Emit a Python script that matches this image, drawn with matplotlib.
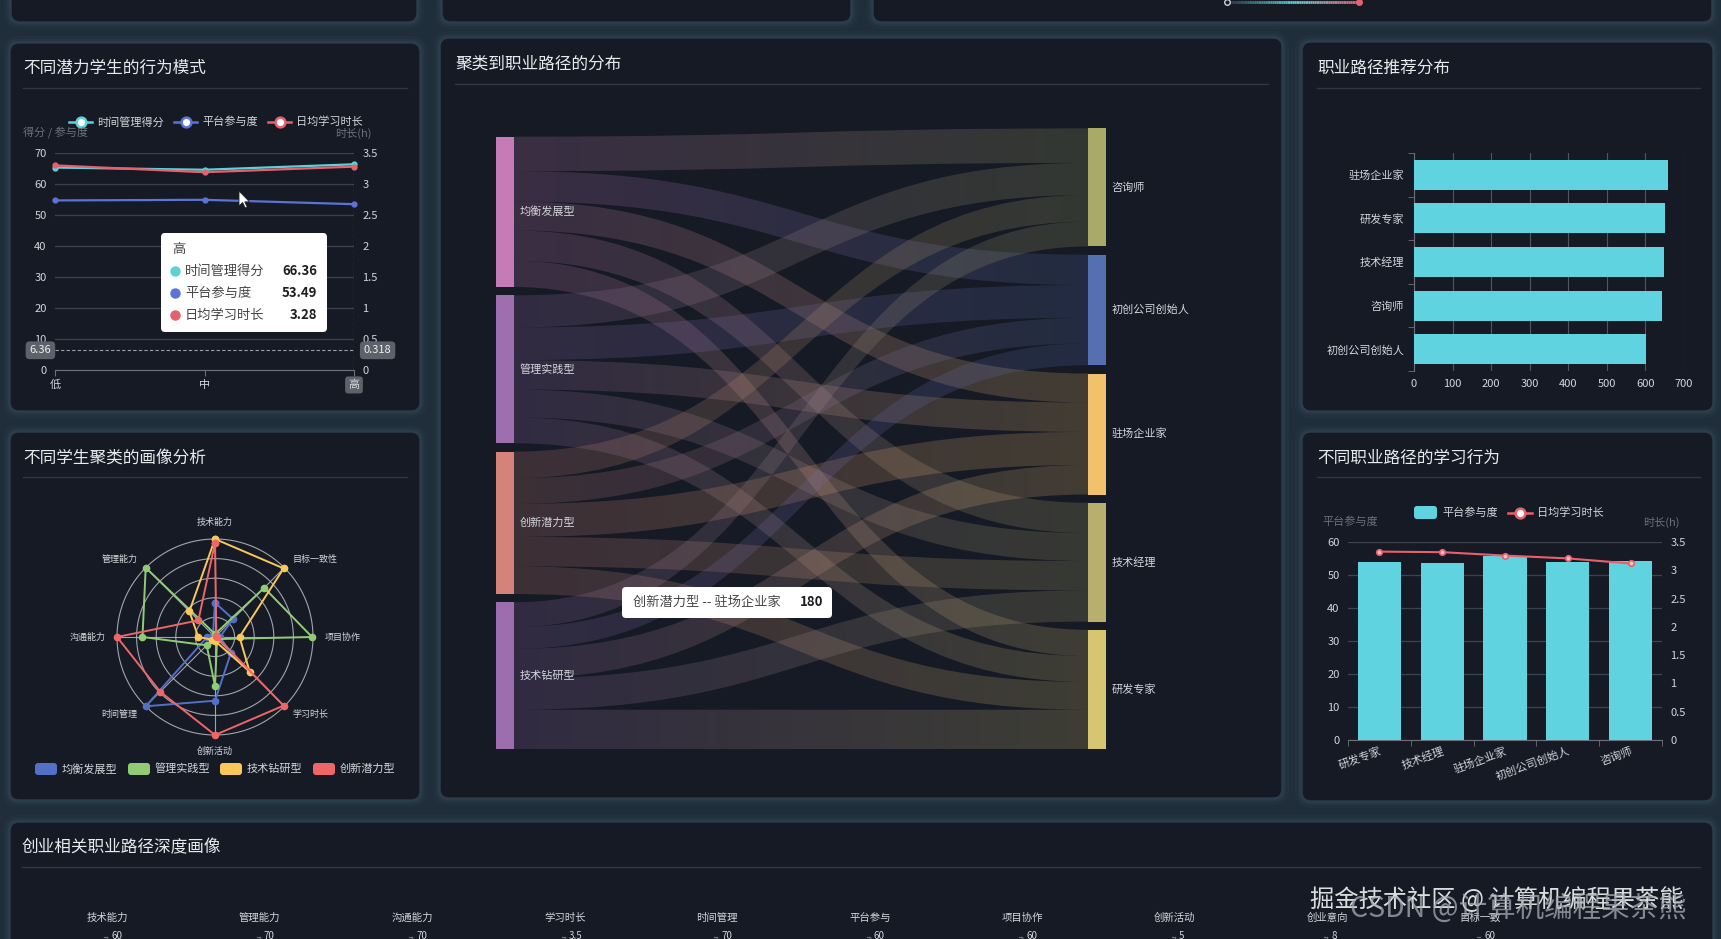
import numpy as np
import matplotlib
matplotlib.use("Agg")
from matplotlib import pyplot as plt
from matplotlib.patches import FancyBboxPatch, PathPatch, Rectangle, Polygon
from matplotlib.path import Path
from matplotlib.colors import to_rgb
from matplotlib.collections import LineCollection

plt.rcParams['font.family'] = ['Noto Sans CJK SC', 'DejaVu Sans']

W, H = 1721, 939

# ---- data ----
levels = ['低', '中', '高']
time_mgmt = [65.3, 64.6, 66.36]
platform = [54.7, 54.9, 53.49]
study_hours = [3.30, 3.19, 3.28]
pointer_val = 6.36

radar_axes = ['技术能力', '目标一致性', '项目协作', '学习时长', '创新活动', '时间管理', '沟通能力', '管理能力']
clusters = ['均衡发展型', '管理实践型', '技术钻研型', '创新潜力型']
radar_balanced = [0.35, 0.26, 0.05, 0.23, 0.65, 1.0, 0.08, 0.03]
radar_manage = [0.03, 0.71, 0.99, 0.03, 0.50, 0.12, 0.74, 1.0]
radar_tech = [1.0, 0.99, 0.25, 0.50, 0.04, 0.04, 0.17, 0.37]
radar_innov = [0.96, 0.02, 0.02, 0.99, 1.0, 0.79, 1.0, 0.24]

sankey_src = ['均衡发展型', '管理实践型', '创新潜力型', '技术钻研型']
sankey_dst = ['咨询师', '初创公司创始人', '驻场企业家', '技术经理', '研发专家']
flows = [[188, 165, 158, 165, 143],
         [175, 178, 160, 152, 141],
         [145, 140, 180, 160, 151],
         [135, 119, 161, 170, 215]]

careers_rank = ['驻场企业家', '研发专家', '技术经理', '咨询师', '初创公司创始人']
rec_counts = [659, 650, 647, 643, 602]

careers_behave = ['研发专家', '技术经理', '驻场企业家', '初创公司创始人', '咨询师']
engagement = [54.0, 53.6, 55.9, 54.0, 54.2]
daily_hours = [3.33, 3.32, 3.26, 3.21, 3.12]

par_axes = ['技术能力', '管理能力', '沟通能力', '学习时长', '时间管理', '平台参与', '项目协作', '创新活动', '创业意向', '目标一致']
par_max = [60, 70, 70, 3.5, 70, 60, 60, 5, 8, 60]
par_line_a = [59, 40, 38, 2.0, 42, 35, 33, 2.5, 3.0, 59]
par_line_b = [57, 32, 30, 2.2, 36, 40, 58, 3.0, 4.0, 42]

# ---- colors ----
BG = '#202e3b'
PANEL = '#151a25'
TXT = '#d3d6db'
AXN = '#6b7079'
GRID = '#3d434e'
AXL = '#6e7079'
C_CYAN = '#5ad2d9'
C_BLUE = '#5b73d6'
C_RED = '#ea5f6c'
BAR = '#5fd3e0'
radar_colors = ['#5470c6', '#91cc75', '#fac858', '#ee6666']
src_colors = ['#c57bb6', '#9d6fae', '#d5827a', '#9c6eae']
dst_colors = ['#a9aa68', '#5570b0', '#f1c16b', '#b8ae6e', '#d8c572']


def px_rect(x, y, w, h):
    return [x / W, 1 - (y + h) / H, w / W, h / H]


fig = plt.figure(figsize=(W / 100, H / 100), dpi=100, facecolor=BG)

ax_bg = fig.add_axes([0, 0, 1, 1], zorder=0)
ax_bg.set_xlim(0, W)
ax_bg.set_ylim(H, 0)
ax_bg.axis('off')

ax_top = fig.add_axes([0, 0, 1, 1], zorder=20)
ax_top.set_xlim(0, W)
ax_top.set_ylim(H, 0)
ax_top.axis('off')
ax_top.patch.set_alpha(0)


def panel(x0, y0, x1, y1):
    for k, a in [(7, 0.06), (4, 0.10), (2, 0.16)]:
        ax_bg.add_patch(FancyBboxPatch((x0 - k, y0 - k), x1 - x0 + 2 * k, y1 - y0 + 2 * k,
                                       boxstyle="round,pad=0,rounding_size=%d" % (9 + k),
                                       fc='#4a6577', ec='none', alpha=a))
    ax_bg.add_patch(FancyBboxPatch((x0, y0), x1 - x0, y1 - y0,
                                   boxstyle="round,pad=0,rounding_size=9",
                                   fc=PANEL, ec='#2c3d4b', lw=1.0))


def title(x, y, s, x_end, sep_y):
    ax_bg.text(x, y, s, color='#e8eaee', fontsize=12, va='center', ha='left')
    ax_bg.plot([x, x_end], [sep_y, sep_y], color='#2e3845', lw=1.0)


# panels
panel(11, -40, 417, 22)
panel(442, -40, 851, 22)
panel(873, -40, 1712, 22)
panel(10, 43, 420, 411)
panel(10, 432, 420, 800)
panel(440, 38, 1282, 798)
panel(1302, 42, 1713, 411)
panel(1302, 432, 1713, 801)
panel(10, 822, 1713, 990)

# little gradient line peeking from the top panel
xs = np.linspace(1227, 1359, 60)
segs = [[(xs[k], 2), (xs[k + 1], 2)] for k in range(len(xs) - 1)]
tt = np.linspace(0, 1, len(segs))
cols = []
for t in tt:
    if t < 0.5:
        c = (1 - 2 * t) * np.array(to_rgb('#2a3a48')) + 2 * t * np.array(to_rgb(C_CYAN))
    else:
        c = (2 - 2 * t) * np.array(to_rgb(C_CYAN)) + (2 * t - 1) * np.array(to_rgb(C_RED))
    cols.append(c)
ax_bg.add_collection(LineCollection(segs, colors=cols, lw=2))
ax_bg.plot([1227], [2], marker='o', ms=4, mfc=PANEL, mec='#d0d3d8', mew=1)
ax_bg.plot([1359], [2], marker='o', ms=4, mfc=C_RED, mec=C_RED)

# ---- panel 1: line chart ----
title(23, 68, '不同潜力学生的行为模式', 407, 88)
ax1 = fig.add_axes(px_rect(55, 153, 299, 217), zorder=2)
ax1.set_facecolor('none')
xi = np.arange(len(levels))
ax1.plot(xi, time_mgmt, color=C_CYAN, lw=1.6, marker='o', ms=3.5, clip_on=False, zorder=4)
ax1.plot(xi, platform, color=C_BLUE, lw=1.6, marker='o', ms=3.5, clip_on=False, zorder=4)
ax1b = ax1.twinx()
ax1b.plot(xi, study_hours, color=C_RED, lw=1.6, marker='o', ms=3.5, clip_on=False, zorder=4)
ax1.set_xlim(0, len(levels) - 1)
ax1.set_ylim(0, 70)
ax1b.set_ylim(0, 3.5)
ax1.set_yticks(np.arange(0, 71, 10))
ax1b.set_yticks(np.arange(0, 3.6, 0.5))
ax1b.set_yticklabels(['%g' % v for v in np.arange(0, 3.6, 0.5)])
ax1.yaxis.grid(True, color=GRID, lw=0.9)
ax1.set_axisbelow(True)
for sp in ['top', 'left', 'right']:
    ax1.spines[sp].set_visible(False)
for sp in ax1b.spines.values():
    sp.set_visible(False)
ax1.spines['bottom'].set_color(AXL)
ax1.set_xticks(xi, levels)
ax1.tick_params(axis='x', colors=AXL, labelcolor=TXT, length=4, pad=3, labelsize=8)
ax1.tick_params(axis='y', length=0, labelcolor=TXT, pad=6, labelsize=8)
ax1b.tick_params(axis='y', length=0, labelcolor=TXT, pad=6, labelsize=8)
ax1.get_xticklabels()[2].set_bbox(dict(boxstyle='round,pad=0.3', fc='#5d6169', ec='none'))
# axis pointer
ax1.axvline(2, color='#9aa0a8', lw=0.8, ls=(0, (3, 2)), zorder=3)
ax1.axhline(pointer_val, color='#9aa0a8', lw=0.8, ls=(0, (3, 2)), zorder=3)
ax1.annotate('%g' % pointer_val, xy=(0, pointer_val), xytext=(-10.5, 0), textcoords='offset points',
             ha='center', va='center', color='#eef0f2', fontsize=8,
             bbox=dict(boxstyle='round,pad=0.35', fc='#5d6169', ec='none'), annotation_clip=False)
ax1b.annotate('%g' % (pointer_val / 70 * 3.5), xy=(2, pointer_val / 70 * 3.5), xytext=(17, 0),
              textcoords='offset points', ha='center', va='center', color='#eef0f2', fontsize=8,
              bbox=dict(boxstyle='round,pad=0.35', fc='#5d6169', ec='none'), annotation_clip=False)

# legend + axis names
for x0, name, c in [(69, '时间管理得分', C_CYAN), (174, '平台参与度', C_BLUE), (268, '日均学习时长', C_RED)]:
    ax_bg.plot([x0, x0 + 23], [122, 122], color=c, lw=1.8)
    ax_bg.plot([x0 + 11.5], [122], marker='o', ms=7, mfc='white', mec=c, mew=1.8)
    ax_bg.text(x0 + 28, 122, name, color=TXT, fontsize=8, va='center')
ax_bg.text(23, 133, '得分 / 参与度', color=AXN, fontsize=8, va='center')
ax_bg.text(372, 133, '时长(h)', color=AXN, fontsize=8, va='center', ha='right')

# tooltip
ax_top.add_patch(FancyBboxPatch((161, 233), 166, 99, boxstyle='round,pad=0,rounding_size=4',
                                fc='white', ec='none'))
ax_top.text(172, 249, levels[2], color='#464646', fontsize=9.5, va='center')
for yy, name, val, c in [(271, '时间管理得分', '%.2f' % time_mgmt[2], C_CYAN),
                         (293, '平台参与度', '%.2f' % platform[2], C_BLUE),
                         (315, '日均学习时长', '%.2f' % study_hours[2], C_RED)]:
    ax_top.plot([175], [yy], marker='o', ms=6.5, color=c)
    ax_top.text(185, yy, name, color='#464646', fontsize=9.5, va='center')
    ax_top.text(317, yy, val, color='#1e1e1e', fontsize=9.5, va='center', ha='right', fontweight='bold')
# mouse cursor
cur = np.array([(0, 0), (0, 15), (3.6, 11.5), (6.2, 17), (8.2, 16), (5.8, 10.8), (10.5, 10.8)])
ax_top.add_patch(Polygon(cur + [239, 191], closed=True, fc='white', ec='#222', lw=0.6))

# ---- panel 2: radar ----
title(23, 458, '不同学生聚类的画像分析', 407, 477)
ax2 = fig.add_axes(px_rect(117, 539, 196, 196), projection='polar', zorder=2)
ax2.set_theta_zero_location('N')
ax2.set_theta_direction(-1)
ax2.patch.set_alpha(0)
ax2.grid(False)
ax2.set_xticks([])
ax2.set_yticks([])
ax2.spines['polar'].set_visible(False)
ax2.set_ylim(0, 1)
ang = np.arange(len(radar_axes)) * 2 * np.pi / len(radar_axes)
full = np.linspace(0, 2 * np.pi, 240)
for r in [0.2, 0.4, 0.6, 0.8, 1.0]:
    ax2.plot(full, np.full_like(full, r), color='#b9bdc3', lw=0.8, alpha=0.85, clip_on=False)
for a in ang:
    ax2.plot([a, a], [0, 1], color='#b9bdc3', lw=0.8, alpha=0.85)
for vals, c in zip([radar_balanced, radar_manage, radar_tech, radar_innov], radar_colors):
    th = np.append(ang, ang[0])
    rv = np.append(vals, vals[0])
    ax2.plot(th, rv, color=c, lw=1.4, marker='o', ms=4.5, clip_on=False, zorder=3)
for a, name in zip(ang, radar_axes):
    s, c = np.sin(a), np.cos(a)
    ha = 'left' if s > 0.1 else ('right' if s < -0.1 else 'center')
    va = 'bottom' if c > 0.9 else ('top' if c < -0.9 else 'center')
    ax2.text(a, 1.12, name, color=TXT, fontsize=6.5, ha=ha, va=va, clip_on=False)
# radar legend
for x0, name, c in zip([35, 128, 220, 313], clusters, radar_colors):
    ax_bg.add_patch(FancyBboxPatch((x0, 763), 22, 12, boxstyle='round,pad=0,rounding_size=3', fc=c, ec='none'))
    ax_bg.text(x0 + 27, 769, name, color=TXT, fontsize=8, va='center')

# ---- panel 3: horizontal bars ----
title(1317, 68, '职业路径推荐分布', 1700, 88)
ax3 = fig.add_axes(px_rect(1414, 153, 270, 218), zorder=2)
ax3.set_facecolor('none')
yi = np.arange(len(careers_rank))
ax3.barh(yi, rec_counts, height=0.69, color=BAR, zorder=3)
ax3.set_ylim(len(careers_rank) - 0.5, -0.5)
ax3.set_xlim(0, 700)
ax3.set_xticks(np.arange(0, 701, 100))
ax3.set_yticks(yi, careers_rank)
ax3.set_yticks(np.arange(-0.5, len(careers_rank)), minor=True)
ax3.xaxis.grid(True, color='#50555f', lw=0.8)
ax3.set_axisbelow(True)
for sp in ['top', 'right', 'bottom']:
    ax3.spines[sp].set_visible(False)
ax3.spines['left'].set_color(AXL)
ax3.tick_params(axis='y', which='major', length=0, pad=7, labelcolor=TXT, labelsize=8)
ax3.tick_params(axis='y', which='minor', length=4, color=AXL)
ax3.tick_params(axis='x', length=0, pad=6, labelcolor=TXT, labelsize=8)

# ---- panel 4: bars + line ----
title(1317, 458, '不同职业路径的学习行为', 1700, 477)
ax4 = fig.add_axes(px_rect(1348, 542, 314, 198), zorder=2)
ax4.set_facecolor('none')
ci = np.arange(len(careers_behave))
ax4.bar(ci, engagement, width=0.69, color=BAR, zorder=3)
ax4.set_xlim(-0.5, len(careers_behave) - 0.5)
ax4.set_ylim(0, 60)
ax4.set_yticks(np.arange(0, 61, 10))
ax4.yaxis.grid(True, color=GRID, lw=0.9)
ax4.set_axisbelow(True)
ax4b = ax4.twinx()
ax4b.plot(ci, daily_hours, color=C_RED, lw=1.5, marker='o', ms=4, mfc='#f6c0c6', mec=C_RED, mew=1.2, zorder=4)
ax4b.set_ylim(0, 3.5)
ax4b.set_yticks(np.arange(0, 3.6, 0.5))
ax4b.set_yticklabels(['%g' % v for v in np.arange(0, 3.6, 0.5)])
for sp in ['top', 'left', 'right']:
    ax4.spines[sp].set_visible(False)
for sp in ax4b.spines.values():
    sp.set_visible(False)
ax4.spines['bottom'].set_color(AXL)
ax4.set_xticks(ci, careers_behave, rotation=20, ha='right', rotation_mode='anchor')
ax4.set_xticks(np.arange(-0.5, len(careers_behave)), minor=True)
ax4.tick_params(axis='x', which='major', length=0, pad=4, labelcolor=TXT, labelsize=8)
ax4.tick_params(axis='x', which='minor', length=4, color=AXL)
ax4.tick_params(axis='y', length=0, labelcolor=TXT, pad=6, labelsize=8)
ax4b.tick_params(axis='y', length=0, labelcolor=TXT, pad=6, labelsize=8)
ax_bg.add_patch(FancyBboxPatch((1414, 506), 23, 13, boxstyle='round,pad=0,rounding_size=3', fc=BAR, ec='none'))
ax_bg.text(1442, 513, '平台参与度', color=TXT, fontsize=8, va='center')
ax_bg.plot([1508, 1532], [513, 513], color=C_RED, lw=1.8)
ax_bg.plot([1520], [513], marker='o', ms=7, mfc='white', mec=C_RED, mew=1.8)
ax_bg.text(1537, 513, '日均学习时长', color=TXT, fontsize=8, va='center')
ax_bg.text(1322, 522, '平台参与度', color=AXN, fontsize=8, va='center')
ax_bg.text(1680, 522, '时长(h)', color=AXN, fontsize=8, va='center', ha='right')

# ---- panel 5: sankey ----
title(455, 64, '聚类到职业路径的分布', 1268, 84)
ax5 = fig.add_axes(px_rect(496, 128.4, 610, 620.8), zorder=2)
ax5.set_facecolor('none')
ax5.axis('off')
fl = np.array(flows, dtype=float)
src_tot = fl.sum(axis=1)
dst_tot = fl.sum(axis=0)
gap = 45.0
span = dst_tot.sum() + gap * (len(sankey_dst) - 1)
left_span = src_tot.sum() + gap * (len(sankey_src) - 1)
src_y = span - left_span + np.concatenate([[0], np.cumsum(src_tot + gap)[:-1]])
dst_y = np.concatenate([[0], np.cumsum(dst_tot + gap)[:-1]])
nw = 18 / 610
x0, x1 = nw, 1 - nw
xm = (x0 + x1) / 2
src_off = src_y.copy()
dst_off = dst_y.copy()
link_pos = {}
for i in range(len(sankey_src)):
    for j in range(len(sankey_dst)):
        link_pos[(i, j)] = [src_off[i], 0]
        src_off[i] += fl[i, j]
for j in range(len(sankey_dst)):
    for i in range(len(sankey_src)):
        link_pos[(i, j)][1] = dst_off[j]
        dst_off[j] += fl[i, j]
tgrad = np.linspace(0, 1, 64)[None, :, None]
for (i, j), (ys, yt) in link_pos.items():
    v = fl[i, j]
    verts = [(x0, ys), (xm, ys), (xm, yt), (x1, yt), (x1, yt + v), (xm, yt + v), (xm, ys + v), (x0, ys + v), (x0, ys)]
    codes = [Path.MOVETO, Path.CURVE4, Path.CURVE4, Path.CURVE4, Path.LINETO,
             Path.CURVE4, Path.CURVE4, Path.CURVE4, Path.CLOSEPOLY]
    patch = PathPatch(Path(verts, codes), fc='none', ec='none')
    ax5.add_patch(patch)
    img = (1 - tgrad) * np.array(to_rgb(src_colors[i])) + tgrad * np.array(to_rgb(dst_colors[j]))
    im = ax5.imshow(img, extent=(x0, x1, span, 0), aspect='auto', alpha=0.21, interpolation='bilinear', zorder=1)
    im.set_clip_path(patch)
for i, name in enumerate(sankey_src):
    ax5.add_patch(Rectangle((0, src_y[i]), nw, src_tot[i], fc=src_colors[i], ec='none', zorder=3))
    ax5.text(nw + 0.009, src_y[i] + src_tot[i] / 2, name, color=TXT, fontsize=8, va='center', zorder=4)
for j, name in enumerate(sankey_dst):
    ax5.add_patch(Rectangle((1 - nw, dst_y[j]), nw, dst_tot[j], fc=dst_colors[j], ec='none', zorder=3))
    ax5.text(1 + 0.009, dst_y[j] + dst_tot[j] / 2, name, color=TXT, fontsize=8, va='center', zorder=4, clip_on=False)
ax5.set_xlim(0, 1)
ax5.set_ylim(span, 0)
# tooltip
ax_top.add_patch(FancyBboxPatch((622, 587), 210, 31, boxstyle='round,pad=0,rounding_size=4', fc='white', ec='none'))
ax_top.text(633, 602.5, '%s -- %s' % (sankey_src[2], sankey_dst[2]), color='#464646', fontsize=9.5, va='center')
ax_top.text(823, 602.5, '%d' % flows[2][2], color='#1e1e1e', fontsize=9.5, va='center', ha='right', fontweight='bold')

# ---- bottom panel: parallel coordinates ----
title(22, 848, '创业相关职业路径深度画像', 1700, 867)
ax6 = fig.add_axes(px_rect(107, 937, 1373, 200), zorder=2)
ax6.set_facecolor('none')
ax6.axis('off')
ax6.set_xlim(0, len(par_axes) - 1)
ax6.set_ylim(0, 1)
for k, (name, mx) in enumerate(zip(par_axes, par_max)):
    ax6.plot([k, k], [0, 1], color=AXL, lw=0.9)
    ax6.plot([k - 0.02, k], [1, 1], color=AXL, lw=0.9, clip_on=False)
    ax6.annotate(name, xy=(k, 1), xytext=(0, 14), textcoords='offset points', ha='center', va='center',
                 color=TXT, fontsize=7.5, annotation_clip=False)
    ax6.annotate('%g' % mx, xy=(k, 1), xytext=(3, 1), textcoords='offset points', ha='left', va='center',
                 color=TXT, fontsize=7, annotation_clip=False)
ax6.plot(np.arange(len(par_axes)), np.array(par_line_a) / np.array(par_max), color=C_CYAN, lw=1.5)
ax6.plot(np.arange(len(par_axes)), np.array(par_line_b) / np.array(par_max), color=C_RED, lw=1.5, alpha=0.8)

# watermarks (they overlap in the screenshot too)
ax_top.text(1310, 900, '掘金技术社区 @ 计算机编程果茶熊', color='white', alpha=0.85, fontsize=17.5, va='center')
ax_top.text(1350, 909, 'CSDN @计算机编程果茶熊', color='#a9aeb5', alpha=0.75, fontsize=20.5, va='center')

fig.savefig('out.png', dpi=100, facecolor=BG)
